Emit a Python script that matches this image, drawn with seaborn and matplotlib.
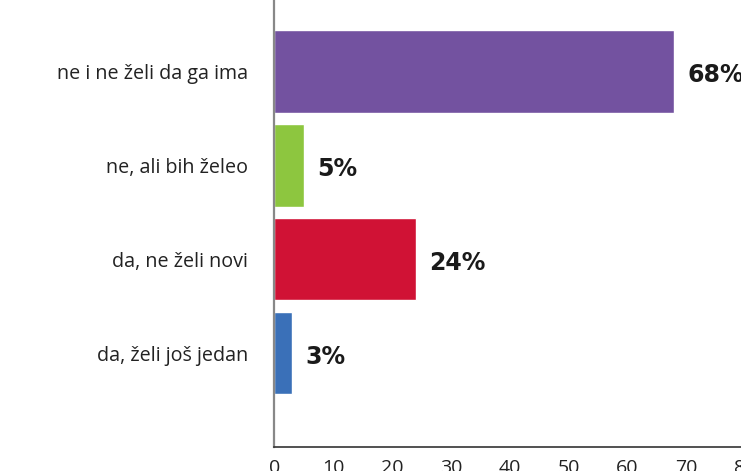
import pandas as pd
import numpy as np
import matplotlib
matplotlib.use('Agg')
import matplotlib.pyplot as plt
import seaborn as sns

odgovori = ['ne i ne želi da ga ima', 'ne, ali bih želeo', 'da, ne želi novi', 'da, želi još jedan']
procenti = [68, 5, 24, 3]
boje = ['#7352A0', '#8DC63F', '#D01235', '#3A70B8']
x_ticks = [0, 10, 20, 30, 40, 50, 60, 70, 80]

df = pd.DataFrame({'Odgovor': odgovori, 'Procenat': procenti})

sns.set_style('white')
plt.rcParams['font.family'] = ['Open Sans', 'DejaVu Sans']

fig = plt.figure(figsize=(7.41, 4.71), dpi=100)
ax = fig.add_axes([0.3704, 0.051, 0.635, 0.949])

sns.barplot(data=df, y='Odgovor', x='Procenat', hue='Odgovor', palette=boje,
            legend=False, width=0.88, saturation=1, orient='h', ax=ax)

# procenti desno od traka
for i, v in enumerate(procenti):
    ax.text(v + 2.3, i + 0.04, f'{v}%', va='center', ha='left', fontsize=17,
            fontweight='bold', family=['DejaVu Sans'], color='#1a1a1a')

ax.set_xlim(0, 80)
ax.set_ylim(4.0, -0.76)
ax.set_xticks(x_ticks)
ax.set_xlabel('')
ax.set_ylabel('')
ax.tick_params(axis='x', direction='in', length=8, width=1, color='#555555',
               labelsize=14, pad=9, labelcolor='#222222')
ax.tick_params(axis='y', length=0, labelsize=14.2, pad=19, labelcolor='#222222')

for s in ['top', 'right']:
    ax.spines[s].set_visible(False)
ax.spines['left'].set_color('#888888')
ax.spines['left'].set_linewidth(1.6)
ax.spines['bottom'].set_color('#333333')
ax.spines['bottom'].set_linewidth(1.2)

fig.savefig('out.png', dpi=100)
